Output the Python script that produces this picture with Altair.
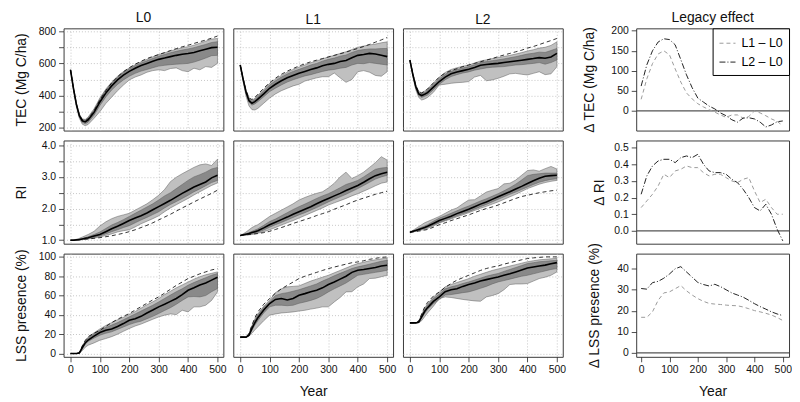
import altair as alt
import pandas as pd

YEARS = [0, 10, 20, 30, 40, 50, 60, 80, 100, 120, 140, 160, 180, 200, 220, 240,
         260, 280, 300, 320, 340, 360, 380, 400, 420, 440, 460, 480, 500]

# ---------------- TEC (Mg C/ha) ----------------
TEC_L0_med = [560, 445, 345, 275, 243, 236, 248, 295, 360, 415, 460, 497, 527, 550, 570, 587, 600, 613, 625, 633, 642, 650, 657, 662, 668, 678, 688, 698, 700]
TEC_L0_dhi = [560, 448, 350, 281, 251, 246, 260, 310, 378, 433, 478, 514, 543, 566, 586, 602, 616, 631, 645, 655, 666, 675, 683, 690, 698, 708, 718, 730, 735]
TEC_L0_dlo = [560, 442, 340, 268, 233, 224, 234, 277, 338, 391, 434, 469, 497, 520, 538, 552, 562, 573, 583, 588, 592, 595, 597, 600, 608, 620, 633, 648, 650]
TEC_L0_lhi = [560, 450, 353, 285, 255, 251, 266, 317, 385, 440, 484, 520, 549, 572, 592, 610, 625, 641, 655, 666, 677, 688, 697, 704, 713, 726, 738, 751, 755]
TEC_L0_llo = [560, 435, 330, 258, 222, 212, 220, 258, 300, 350, 390, 430, 465, 497, 515, 528, 545, 555, 560, 555, 568, 572, 555, 548, 570, 560, 580, 575, 600]
TEC_L0_dash = [560, 445, 345, 278, 248, 242, 255, 305, 372, 430, 478, 517, 548, 573, 595, 613, 630, 643, 655, 667, 680, 692, 703, 713, 724, 735, 745, 757, 770]

TEC_L1_med = [590, 500, 420, 368, 352, 362, 378, 410, 445, 470, 492, 510, 525, 538, 550, 562, 572, 585, 594, 600, 612, 618, 635, 650, 655, 662, 658, 650, 642]
TEC_L1_dhi = [590, 505, 428, 378, 364, 376, 394, 428, 466, 492, 515, 534, 550, 563, 576, 590, 600, 614, 625, 633, 645, 652, 668, 680, 686, 690, 690, 692, 693]
TEC_L1_dlo = [590, 495, 412, 358, 340, 348, 362, 392, 424, 446, 466, 484, 498, 510, 522, 530, 540, 550, 558, 562, 570, 575, 590, 600, 598, 605, 600, 595, 590]
TEC_L1_lhi = [590, 508, 432, 384, 370, 383, 402, 437, 476, 502, 525, 545, 562, 577, 590, 604, 615, 628, 640, 650, 662, 672, 686, 700, 708, 715, 720, 728, 734]
TEC_L1_llo = [590, 485, 395, 335, 312, 310, 320, 352, 384, 410, 430, 445, 460, 470, 490, 500, 510, 517, 517, 540, 510, 482, 500, 548, 555, 545, 525, 520, 548]
TEC_L1_dash = [590, 505, 430, 385, 375, 388, 408, 445, 480, 508, 532, 552, 568, 584, 597, 610, 620, 630, 640, 650, 660, 670, 682, 693, 705, 718, 732, 746, 761]

TEC_L2_med = [620, 530, 455, 410, 400, 408, 418, 452, 487, 515, 535, 546, 555, 563, 575, 588, 593, 597, 600, 605, 610, 615, 620, 625, 630, 636, 632, 640, 662]
TEC_L2_dhi = [620, 534, 461, 418, 410, 419, 431, 467, 503, 532, 551, 562, 572, 580, 592, 605, 611, 617, 622, 628, 635, 642, 650, 658, 663, 670, 668, 680, 693]
TEC_L2_dlo = [620, 525, 448, 400, 388, 395, 403, 436, 470, 498, 518, 530, 540, 547, 558, 565, 572, 576, 578, 580, 585, 590, 592, 596, 600, 605, 595, 605, 621]
TEC_L2_lhi = [620, 537, 466, 425, 418, 428, 442, 478, 515, 543, 562, 573, 582, 590, 602, 615, 622, 630, 636, 643, 650, 658, 667, 677, 685, 695, 700, 712, 734]
TEC_L2_llo = [620, 518, 435, 388, 372, 378, 388, 420, 466, 470, 476, 480, 482, 487, 515, 525, 492, 497, 507, 520, 535, 538, 532, 528, 538, 548, 530, 535, 579]
TEC_L2_dash = [620, 535, 463, 422, 415, 426, 440, 478, 515, 540, 555, 567, 580, 590, 600, 610, 620, 630, 642, 652, 662, 672, 682, 695, 705, 717, 730, 742, 755]

# ---------------- RI ----------------
RI_L0_med = [1.00, 1.00, 1.01, 1.02, 1.04, 1.06, 1.08, 1.13, 1.18, 1.27, 1.36, 1.44, 1.53, 1.62, 1.70, 1.77, 1.86, 1.96, 2.06, 2.16, 2.26, 2.37, 2.48, 2.58, 2.68, 2.76, 2.84, 2.97, 3.05]
RI_L0_dhi = [1.00, 1.00, 1.02, 1.03, 1.05, 1.08, 1.11, 1.18, 1.26, 1.37, 1.48, 1.56, 1.65, 1.75, 1.85, 1.95, 2.05, 2.15, 2.27, 2.40, 2.50, 2.63, 2.76, 2.89, 3.00, 3.07, 3.15, 3.25, 3.30]
RI_L0_dlo = [1.00, 1.00, 1.01, 1.02, 1.03, 1.04, 1.06, 1.09, 1.13, 1.20, 1.27, 1.33, 1.40, 1.46, 1.55, 1.64, 1.72, 1.81, 1.90, 2.02, 2.13, 2.22, 2.32, 2.42, 2.53, 2.62, 2.72, 2.82, 2.89]
RI_L0_lhi = [1.00, 1.01, 1.03, 1.06, 1.10, 1.14, 1.18, 1.28, 1.45, 1.58, 1.68, 1.75, 1.80, 1.85, 1.95, 2.05, 2.15, 2.28, 2.42, 2.60, 2.85, 2.99, 3.10, 3.20, 3.30, 3.38, 3.41, 3.36, 3.56]
RI_L0_llo = [1.00, 1.00, 1.00, 1.01, 1.02, 1.03, 1.04, 1.07, 1.10, 1.15, 1.20, 1.26, 1.30, 1.33, 1.42, 1.52, 1.60, 1.68, 1.77, 1.90, 2.02, 2.12, 2.22, 2.32, 2.43, 2.53, 2.63, 2.73, 2.81]
RI_L0_dash = [1.00, 1.00, 1.00, 1.01, 1.02, 1.03, 1.04, 1.06, 1.08, 1.11, 1.14, 1.18, 1.22, 1.27, 1.33, 1.40, 1.47, 1.55, 1.64, 1.73, 1.82, 1.92, 2.02, 2.11, 2.21, 2.30, 2.39, 2.48, 2.58]

RI_L1_med = [1.15, 1.17, 1.19, 1.21, 1.24, 1.27, 1.30, 1.39, 1.49, 1.57, 1.65, 1.73, 1.82, 1.90, 1.98, 2.06, 2.15, 2.24, 2.32, 2.40, 2.48, 2.57, 2.65, 2.73, 2.83, 2.94, 3.04, 3.10, 3.15]
RI_L1_dhi = [1.15, 1.18, 1.21, 1.24, 1.28, 1.32, 1.36, 1.47, 1.59, 1.67, 1.77, 1.87, 1.97, 2.06, 2.14, 2.23, 2.32, 2.40, 2.47, 2.56, 2.66, 2.76, 2.82, 2.89, 3.00, 3.12, 3.24, 3.28, 3.30]
RI_L1_dlo = [1.15, 1.16, 1.17, 1.19, 1.21, 1.23, 1.25, 1.32, 1.41, 1.49, 1.56, 1.64, 1.72, 1.80, 1.87, 1.95, 2.03, 2.12, 2.21, 2.29, 2.37, 2.45, 2.54, 2.63, 2.73, 2.83, 2.93, 3.00, 3.05]
RI_L1_lhi = [1.15, 1.20, 1.26, 1.33, 1.40, 1.45, 1.49, 1.62, 1.75, 1.85, 1.95, 2.05, 2.15, 2.27, 2.35, 2.42, 2.48, 2.53, 2.65, 2.80, 3.00, 3.15, 2.95, 3.04, 3.15, 3.30, 3.45, 3.64, 3.53]
RI_L1_llo = [1.15, 1.15, 1.16, 1.17, 1.18, 1.20, 1.22, 1.27, 1.33, 1.40, 1.48, 1.55, 1.62, 1.70, 1.78, 1.86, 1.94, 2.02, 2.11, 2.18, 2.25, 2.32, 2.40, 2.47, 2.55, 2.63, 2.72, 2.80, 2.84]
RI_L1_dash = [1.15, 1.16, 1.17, 1.18, 1.19, 1.20, 1.21, 1.24, 1.28, 1.34, 1.40, 1.46, 1.53, 1.59, 1.65, 1.71, 1.78, 1.84, 1.90, 1.98, 2.05, 2.12, 2.20, 2.27, 2.33, 2.39, 2.45, 2.50, 2.55]

RI_L2_med = [1.25, 1.28, 1.31, 1.34, 1.37, 1.40, 1.44, 1.53, 1.62, 1.69, 1.76, 1.84, 1.91, 1.98, 2.06, 2.14, 2.21, 2.29, 2.37, 2.45, 2.53, 2.62, 2.70, 2.79, 2.88, 2.96, 3.02, 3.04, 3.05]
RI_L2_dhi = [1.25, 1.29, 1.33, 1.37, 1.41, 1.45, 1.49, 1.60, 1.70, 1.77, 1.85, 1.93, 2.01, 2.08, 2.16, 2.24, 2.31, 2.39, 2.47, 2.56, 2.66, 2.77, 2.90, 3.04, 3.08, 3.10, 3.12, 3.12, 3.12]
RI_L2_dlo = [1.25, 1.27, 1.30, 1.32, 1.35, 1.37, 1.40, 1.48, 1.56, 1.63, 1.70, 1.77, 1.84, 1.90, 1.98, 2.06, 2.13, 2.21, 2.29, 2.37, 2.45, 2.52, 2.60, 2.68, 2.76, 2.83, 2.88, 2.92, 2.94]
RI_L2_lhi = [1.25, 1.31, 1.37, 1.43, 1.49, 1.55, 1.59, 1.67, 1.75, 1.85, 1.95, 2.02, 2.15, 2.27, 2.28, 2.40, 2.52, 2.58, 2.63, 2.78, 2.80, 2.90, 3.05, 3.20, 3.22, 3.18, 3.26, 3.33, 3.25]
RI_L2_llo = [1.25, 1.26, 1.28, 1.30, 1.32, 1.34, 1.37, 1.45, 1.54, 1.61, 1.67, 1.74, 1.80, 1.87, 1.94, 2.01, 2.07, 2.14, 2.21, 2.29, 2.37, 2.45, 2.54, 2.63, 2.70, 2.77, 2.82, 2.86, 2.89]
RI_L2_dash = [1.25, 1.26, 1.27, 1.29, 1.30, 1.32, 1.34, 1.41, 1.49, 1.55, 1.62, 1.68, 1.74, 1.80, 1.87, 1.94, 2.00, 2.05, 2.11, 2.18, 2.25, 2.32, 2.38, 2.42, 2.46, 2.50, 2.53, 2.56, 2.58]

# ---------------- LSS presence (%) ----------------
LSS_L0_med = [0, 0, 0, 0.5, 6, 11, 14, 18, 21.7, 24, 25.5, 28, 31, 34.5, 36, 38.5, 42, 45, 48.3, 51, 54, 57, 61, 65.5, 68, 71, 73, 76, 79]
LSS_L0_dhi = [0, 0, 0, 0.8, 7, 12.5, 16, 20.5, 24, 27, 29.5, 32, 35, 38, 41, 44, 47, 50, 53.4, 57, 60.5, 64, 67, 70.7, 73.5, 76, 78.5, 81, 82.8]
LSS_L0_dlo = [0, 0, 0, 0.3, 5, 9.5, 12.5, 16, 19, 21, 22.5, 25, 27.5, 30, 32, 33.5, 36, 38.5, 41.4, 44.5, 47.5, 51, 55, 58.6, 59, 58.6, 60, 64, 67.2]
LSS_L0_lhi = [0, 0, 0, 1, 7.5, 13, 17, 21.5, 25.5, 29, 32, 35, 37.5, 40.5, 43.5, 47, 50.5, 53.5, 57, 61, 64.5, 68, 71, 74, 77, 79.5, 81.5, 83, 84.5]
LSS_L0_llo = [0, 0, 0, 0, 3, 6.5, 8.6, 11, 13.8, 15.5, 17.5, 20, 23, 25.9, 28.5, 30.5, 33, 35.5, 37.9, 39.7, 41, 40.3, 44.8, 43.1, 48.3, 48.3, 50, 55, 63.8]
LSS_L0_dash = [0, 0, 0, 1, 8, 13.5, 17.5, 21, 24.1, 28, 32, 35.5, 38.5, 41.4, 45, 48.5, 52, 55.5, 58.6, 62.5, 66.5, 70.5, 74, 77.6, 80, 82.5, 84.5, 86.5, 87.9]

LSS_L1_med = [17, 17, 17, 19, 26, 32, 37, 45, 51.7, 56, 57, 55.5, 57, 60.3, 62, 64, 65.5, 68, 71.4, 74, 77, 80, 84, 86.2, 87, 88, 89, 90.5, 91.4]
LSS_L1_dhi = [17, 17, 17, 20, 28, 34.5, 40, 48, 53.4, 60, 62, 63, 64.5, 66, 68, 70, 72, 75, 77.6, 80.5, 83, 85.5, 88, 89.7, 91, 92.5, 94, 95.5, 96.6]
LSS_L1_dlo = [17, 17, 17, 18.5, 24, 29.5, 34, 42, 48.3, 50, 50, 49.5, 50, 52, 53.4, 55, 57, 60, 63.8, 67, 70, 73, 77, 81, 82, 83, 84, 85, 86.2]
LSS_L1_lhi = [17, 17, 17, 20.5, 29, 36, 41, 49, 55.2, 63, 67, 69, 69.5, 70, 72.5, 75, 77, 79, 81, 83.5, 86, 88.5, 91, 93.1, 94.5, 96, 97, 98, 99]
LSS_L1_llo = [17, 17, 17, 18, 21, 24.5, 27.6, 34, 39.7, 41, 42, 42.5, 43.1, 44, 44.8, 46, 47, 48.3, 48.3, 53.4, 58, 63.8, 64, 69, 72, 77.6, 78, 79.5, 81]
LSS_L1_dash = [17, 17, 17, 21, 29.5, 37, 43, 51, 56.9, 62.5, 67, 70.5, 74, 77.6, 80, 82, 84, 86, 87.9, 89.5, 91, 92.5, 94, 94.8, 96, 97.5, 98.5, 99.5, 100]

LSS_L2_med = [31.7, 31.7, 31.7, 32.5, 38, 43.5, 47.5, 54, 58.6, 64, 66, 67, 69.5, 71.4, 73, 75, 76.5, 78, 79.3, 81, 82.5, 84.5, 86.5, 88.6, 89.5, 90.5, 91.5, 93, 94.1]
LSS_L2_dhi = [31.7, 31.7, 31.7, 33, 39.5, 45.5, 50, 57, 61.5, 67, 69, 70.5, 72.5, 74.1, 76, 78, 80, 81.5, 82.8, 85, 87, 89, 91, 93.1, 94, 95, 95.5, 96, 96.6]
LSS_L2_dlo = [31.7, 31.7, 31.7, 32, 36.5, 41.5, 45.5, 51.5, 56, 60.5, 61, 62, 63, 63.8, 65.5, 67.5, 69.5, 72, 74.1, 75.5, 77, 78.5, 80, 81, 82.5, 84, 85.5, 87, 87.9]
LSS_L2_lhi = [31.7, 31.7, 31.7, 33.5, 40.5, 47, 51.5, 58.5, 63.5, 69, 71.5, 73.5, 75.5, 77.5, 80, 82, 84, 86, 87.5, 89, 90.5, 92, 93.5, 95, 96, 97, 97.5, 98, 98.5]
LSS_L2_llo = [31.7, 31.7, 31.7, 31.7, 34, 38, 42, 49, 56.9, 58.6, 58, 57, 56, 55.2, 54.5, 54.1, 58.6, 60, 62, 66, 71.4, 72, 72, 72.4, 75, 77.6, 79, 81, 84.5]
LSS_L2_dash = [31.7, 31.7, 31.7, 33.5, 41, 48, 53, 59.5, 63.8, 68.5, 72.5, 75.9, 78.5, 81, 83.5, 86, 88, 89.5, 90.7, 92.5, 94, 95.5, 97, 98.3, 99, 99.5, 100, 100, 100]

# ---------------- Legacy effect ----------------
LEG_YEARS = [0, 20, 40, 60, 80, 100, 120, 140, 160, 180, 200, 220, 240, 260, 280, 300,
             320, 340, 360, 380, 400, 420, 440, 460, 480, 500]
D_TEC_L1 = [29, 80, 118, 142, 150, 140, 105, 72, 45, 30, 18, 10, 3, -3, -10, -16, -10, -10, -18, -14, 0, -5, -12, -20, -26, -37]
D_TEC_L2 = [62, 115, 150, 172, 180, 178, 165, 128, 90, 58, 32, 22, 12, 5, -5, -12, -22, -28, -18, -17, -20, -28, -40, -35, -27, -25]
D_RI_L1 = [0.14, 0.18, 0.22, 0.27, 0.34, 0.32, 0.36, 0.37, 0.39, 0.38, 0.38, 0.35, 0.33, 0.34, 0.34, 0.32, 0.30, 0.29, 0.31, 0.32, 0.24, 0.17, 0.19, 0.14, 0.10, 0.10]
D_RI_L2 = [0.22, 0.33, 0.39, 0.42, 0.43, 0.43, 0.41, 0.44, 0.45, 0.44, 0.46, 0.40, 0.36, 0.35, 0.35, 0.34, 0.31, 0.29, 0.25, 0.20, 0.14, 0.12, 0.16, 0.10, 0.01, -0.06]
D_LSS_L1 = [16.9, 16.9, 19.5, 25, 28.5, 29, 30.5, 32, 29.5, 27.5, 25.8, 24.5, 23.5, 23.2, 23, 22.7, 22.5, 22.4, 21.8, 21, 20.1, 19.5, 18.8, 18, 16.8, 15.4]
D_LSS_L2 = [30.6, 30.3, 33.4, 34, 35.5, 37.5, 40, 41, 38.5, 36, 33.5, 32.5, 31.8, 32.6, 31.5, 30, 28.5, 27.5, 26.5, 25, 23.4, 22, 20.8, 19.5, 18.5, 17.7]

SCENARIOS = ["L0", "L1", "L2"]
SERIES = ["L1 \u2013 L0", "L2 \u2013 L0"]

PANEL_DATA = {
    ("TEC", "L0"): (TEC_L0_llo, TEC_L0_dlo, TEC_L0_med, TEC_L0_dhi, TEC_L0_lhi, TEC_L0_dash),
    ("TEC", "L1"): (TEC_L1_llo, TEC_L1_dlo, TEC_L1_med, TEC_L1_dhi, TEC_L1_lhi, TEC_L1_dash),
    ("TEC", "L2"): (TEC_L2_llo, TEC_L2_dlo, TEC_L2_med, TEC_L2_dhi, TEC_L2_lhi, TEC_L2_dash),
    ("RI", "L0"): (RI_L0_llo, RI_L0_dlo, RI_L0_med, RI_L0_dhi, RI_L0_lhi, RI_L0_dash),
    ("RI", "L1"): (RI_L1_llo, RI_L1_dlo, RI_L1_med, RI_L1_dhi, RI_L1_lhi, RI_L1_dash),
    ("RI", "L2"): (RI_L2_llo, RI_L2_dlo, RI_L2_med, RI_L2_dhi, RI_L2_lhi, RI_L2_dash),
    ("LSS", "L0"): (LSS_L0_llo, LSS_L0_dlo, LSS_L0_med, LSS_L0_dhi, LSS_L0_lhi, LSS_L0_dash),
    ("LSS", "L1"): (LSS_L1_llo, LSS_L1_dlo, LSS_L1_med, LSS_L1_dhi, LSS_L1_lhi, LSS_L1_dash),
    ("LSS", "L2"): (LSS_L2_llo, LSS_L2_dlo, LSS_L2_med, LSS_L2_dhi, LSS_L2_lhi, LSS_L2_dash),
}
LEG_DATA = {"TEC": (D_TEC_L1, D_TEC_L2), "RI": (D_RI_L1, D_RI_L2), "LSS": (D_LSS_L1, D_LSS_L2)}

RI_LABELS = "datum.value == 1 ? '1.0' : datum.value == 2 ? '2.0' : datum.value == 3 ? '3.0' : datum.value == 4 ? '4.0' : ''"

ROWS = [
    dict(key="TEC", title="TEC (Mg C/ha)", dom=[182, 818], values=[200, 300, 400, 500, 600, 700, 800],
         fmt="d", expr="datum.value % 200 === 0 ? datum.label : ''", tpad=9.5,
         ltitle="\u0394 TEC (Mg C/ha)", ldom=[-49, 206], lvalues=[0, 50, 100, 150, 200], lfmt="d",
         ltpad=15),
    dict(key="RI", title="RI", dom=[0.89, 4.15], values=[1.0, 1.5, 2.0, 2.5, 3.0, 3.5, 4.0],
         fmt=".1f", expr=RI_LABELS, tpad=12.5,
         ltitle="\u0394 RI", ldom=[-0.077, 0.543], lvalues=[0.0, 0.1, 0.2, 0.3, 0.4, 0.5], lfmt=".1f",
         ltpad=7),
    dict(key="LSS", title="LSS presence (%)", dom=[-3.4, 103.4], values=[0, 20, 40, 60, 80, 100],
         fmt="d", expr="datum.label", tpad=9.5,
         ltitle="\u0394 LSS presence (%)", ldom=[-1.9, 47.2], lvalues=[0, 10, 20, 30, 40], lfmt="d",
         ltpad=15),
]

FONT = "Liberation Sans"
LIGHT = "#c0c0c0"
DARK = "#898989"
EDGE = "#5c5c5c"
W_MAIN, W_LEG, W_GAP = 161, 154, 54
HEIGHTS = [103, 104, 104]
X_VALUES = [0, 100, 200, 300, 400, 500]


def main_panel(r, row, c, scen):
    llo, dlo, med, dhi, lhi, dash = PANEL_DATA[(row["key"], scen)]
    df = pd.DataFrame({"year": YEARS, "llo": llo, "dlo": dlo, "med": med,
                       "dhi": dhi, "lhi": lhi, "dash": dash})
    show_x = r == 2
    xaxis = alt.Axis(values=X_VALUES, grid=True, labels=show_x, ticks=show_x, domain=False,
                     labelFlush=False, labelOverlap=False,
                     title=("Year" if (show_x and c == 1) else None), titlePadding=9)
    x = alt.X("year:Q", scale=alt.Scale(domain=[-23.6, 520], nice=False, zero=False), axis=xaxis)
    if c == 0:
        yaxis = alt.Axis(values=row["values"], grid=True, labels=True, ticks=True, domain=False,
                         labelFlush=False, labelOverlap=False, format=row["fmt"],
                         labelExpr=row["expr"], title=row["title"], titlePadding=row["tpad"])
    else:
        yaxis = alt.Axis(values=row["values"], grid=True, labels=False, ticks=False, domain=False,
                         title=None)
    ysc = alt.Scale(domain=row["dom"], nice=False, zero=False)
    base = alt.Chart(df)
    light = base.mark_area(color=LIGHT, stroke=EDGE, strokeWidth=0.5).encode(
        x=x, y=alt.Y("llo:Q", scale=ysc, axis=yaxis), y2="lhi:Q")
    dark = base.mark_area(color=DARK, stroke=EDGE, strokeWidth=0.5).encode(
        x=x, y=alt.Y("dlo:Q", scale=ysc, axis=yaxis), y2="dhi:Q")
    mline = base.mark_line(color="black", strokeWidth=1.6).encode(
        x=x, y=alt.Y("med:Q", scale=ysc, axis=yaxis))
    dline = base.mark_line(color="black", strokeWidth=0.8, strokeDash=[4, 3]).encode(
        x=x, y=alt.Y("dash:Q", scale=ysc, axis=yaxis))
    ch = alt.layer(light, dark, mline, dline).properties(width=W_MAIN, height=HEIGHTS[r])
    if r == 0:
        ch = ch.properties(title=alt.TitleParams(scen))
    return ch


def legacy_panel(r, row):
    v1, v2 = LEG_DATA[row["key"]]
    df = pd.DataFrame({"year": LEG_YEARS * 2, "value": v1 + v2,
                       "series": [SERIES[0]] * len(LEG_YEARS) + [SERIES[1]] * len(LEG_YEARS)})
    show_x = r == 2
    if show_x:
        xaxis = alt.Axis(values=X_VALUES, grid=False, domain=False, labelFlush=False,
                         labelOverlap=False, title="Year", titlePadding=9)
    else:
        xaxis = None
    x = alt.X("year:Q", scale=alt.Scale(domain=[-17.5, 522], nice=False, zero=False), axis=xaxis)
    yaxis = alt.Axis(values=row["lvalues"], grid=False, domain=False, labelFlush=False,
                     labelOverlap=False, format=row["lfmt"], title=row["ltitle"],
                     titlePadding=row["ltpad"])
    ysc = alt.Scale(domain=row["ldom"], nice=False, zero=False)
    if r == 0:
        leg = alt.Legend(orient="top-right", offset=0, title=None, symbolType="stroke",
                         symbolSize=260, symbolStrokeWidth=1, labelFontSize=12.5, labelFont=FONT,
                         strokeColor="black", fillColor="white", padding=6, rowPadding=3,
                         labelOffset=5, labelLimit=200)
    else:
        leg = None
    zero = alt.Chart(pd.DataFrame({"z": [0]})).mark_rule(color="#555555", strokeWidth=1.3).encode(
        y=alt.Y("z:Q", scale=ysc, axis=yaxis))
    lines = alt.Chart(df).mark_line(strokeWidth=1).encode(
        x=x,
        y=alt.Y("value:Q", scale=ysc, axis=yaxis),
        color=alt.Color("series:N", scale=alt.Scale(domain=SERIES, range=["#9a9a9a", "#222222"]),
                        legend=leg),
        strokeDash=alt.StrokeDash("series:N",
                                  scale=alt.Scale(domain=SERIES, range=[[4, 3], [6, 2, 1, 2]]),
                                  legend=leg),
    )
    ch = alt.layer(zero, lines).properties(width=W_LEG, height=HEIGHTS[r])
    if r == 0:
        ch = ch.properties(title=alt.TitleParams("Legacy effect"))
    return ch


def spacer(r):
    return alt.Chart(pd.DataFrame({"s": [0]})).mark_point(opacity=0).encode(
        x=alt.X("s:Q", axis=None), y=alt.Y("s:Q", axis=None)
    ).properties(width=W_GAP, height=HEIGHTS[r], view=alt.ViewBackground(strokeOpacity=0))


panels = []
for r, row in enumerate(ROWS):
    for c, scen in enumerate(SCENARIOS):
        panels.append(main_panel(r, row, c, scen))
    panels.append(spacer(r))
    panels.append(legacy_panel(r, row))

chart = alt.concat(*panels, columns=5, spacing=10).properties(
    bounds="flush", padding={"left": 6, "top": 0, "right": 0, "bottom": 0}
).resolve_scale(color="independent", strokeDash="independent").resolve_legend(
    color="independent", strokeDash="independent"
).configure(background="white").configure_view(
    stroke="#3a3a3a", strokeWidth=1
).configure_axis(
    labelFont=FONT, titleFont=FONT, labelFontSize=10.5, titleFontSize=14,
    titleFontWeight="normal", labelColor="#111111", titleColor="#111111",
    tickColor="#222222", tickSize=5, tickWidth=0.8, labelPadding=3,
    gridColor="#b8b8b8", gridDash=[1, 2], gridWidth=0.8
).configure_title(
    font=FONT, fontSize=14, fontWeight="normal", color="#111111", offset=1, anchor="middle"
)

chart.save("out.html", embed_options={"renderer": "svg", "actions": False})
